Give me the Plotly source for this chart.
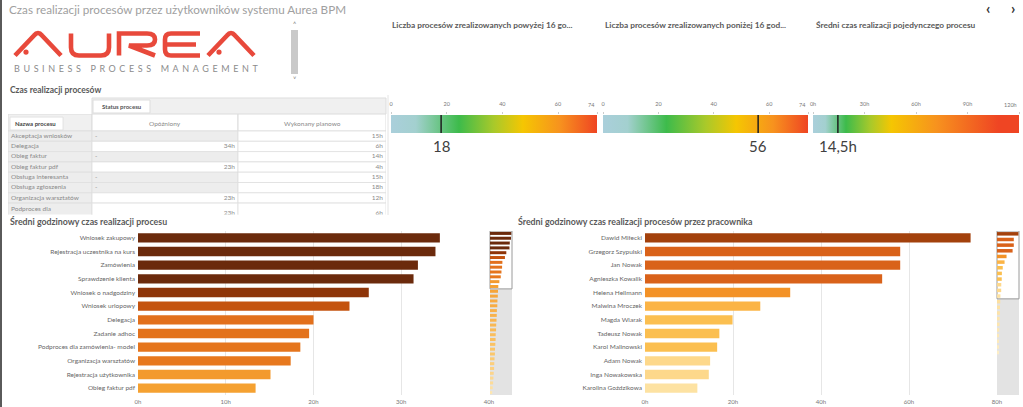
import plotly.graph_objects as go

W, H = 1023, 407
def px(x): return x / W
def py(y): return 1 - y / H

# ---------------- data ----------------
page_title = "Czas realizacji procesów przez użytkowników systemu Aurea BPM"

gauge_titles = ["Liczba procesów zrealizowanych powyżej 16 go...",
                "Liczba procesów zrealizowanych poniżej 16 god...",
                "Średni czas realizacji pojedynczego procesu"]
gauge_values = [18, 56, 14.5]
gauge_labels = ["18", "56", "14,5h"]
gauge_max = [74, 74, 120]
gauge_ticks = [[0, 20, 40, 60, 74], [0, 20, 40, 60, 74], [0, 30, 60, 90, 120]]
gauge_ticktext = [["0", "20", "40", "60", "74"], ["0", "20", "40", "60", "74"],
                  ["0h", "30h", "60h", "90h", "120h"]]

tbl_group = "Status procesu"
tbl_header = ["Nazwa procesu", "Opóźniony", "Wykonany planowo"]
tbl_names = ["Akceptacja wniosków", "Delegacja", "Obieg faktur", "Obieg faktur pdf",
             "Obsługa interesanta", "Obsługa zgłoszenia", "Organizacja warsztatów",
             "Podproces dla<br>zamówienia- model"]
tbl_delayed = ["-", "34h", "-", "23h", "-", "-", "23h", "23h"]
tbl_planned = ["15h", "6h", "14h", "4h", "15h", "18h", "12h", "6h"]

proc_names = ["Wniosek zakupowy", "Rejestracja uczestnika na kurs", "Zamówienia",
              "Sprawdzenie klienta", "Wniosek o nadgodziny", "Wniosek urlopowy",
              "Delegacja", "Zadanie adhoc", "Podproces dla zamówienia- model",
              "Organizacja warsztatów", "Rejestracja użytkownika", "Obieg faktur pdf"]
proc_hours = [34.4, 33.9, 31.9, 31.4, 26.3, 24.1, 20.0, 19.5, 18.5, 17.4, 15.1, 13.4]
proc_tail_hours = [12.9, 12.6, 12.0, 11.8, 11.1, 10.9, 10.5, 10.0, 9.8, 9.2, 9.0,
                   8.6, 8.1, 7.9, 7.3, 6.9, 6.6, 6.0, 5.5, 5.1, 4.4, 3.6]

emp_names = ["Dawid Miłecki", "Grzegorz Szypulski", "Jan Nowak", "Agnieszka Kowalik",
             "Helena Hellmann", "Malwina Mroczek", "Magda Wiarak", "Tadeusz Nowak",
             "Karol Malinowski", "Adam Nowak", "Inga Nowakowska", "Karolina Goździkowa"]
emp_hours = [74.0, 58.0, 58.0, 53.9, 33.0, 26.2, 19.9, 16.9, 16.4, 14.8, 14.5, 11.9]
emp_tail_hours = [11.2, 10.4, 9.9, 9.1, 8.7, 7.8, 7.2, 6.5, 5.7, 4.9]

# ---------------- styles ----------------
proc_colors = ['#6b2a0c'] * 4 + ['#8e3509', '#c4530f', '#e2701c', '#e3721c',
                                 '#e5751d', '#e7781e', '#f39a2d', '#f5a131']
emp_colors = ['#a3410c', '#d9621a', '#d9621a', '#d9621a', '#f39227', '#fbb446',
              '#fbbf50', '#fbbf50', '#fbbf50', '#fdd88b', '#fdd88b', '#fde2a2']
gauge_scales = [
    [[0, '#aacfdb'], [0.12, '#a3d0cf'], [0.33, '#3dbb4b'], [0.5, '#a9c92a'],
     [0.64, '#f5c602'], [0.82, '#f7921e'], [1, '#ef4523']],
    [[0, '#aacfdb'], [0.12, '#a3d0cf'], [0.31, '#3dbb4b'], [0.5, '#a9c92a'],
     [0.65, '#f5c602'], [0.83, '#f7921e'], [1, '#ef4523']],
    [[0, '#aacfdb'], [0.06, '#a3d0cf'], [0.16, '#3dbb4b'], [0.28, '#a9c92a'],
     [0.38, '#f5c602'], [0.6, '#f7921e'], [0.9, '#ef4523'], [1, '#ef4523']],
]
col_edges = [0, 84, 230, 378]          # table column borders (table axis units = px)
FONT = "Lato"
RED = '#e8493b'

fig = go.Figure()
annotations = []
shapes = []

def ann(x, y, text, size=8, color='#555', xanchor='left', yanchor='middle', **kw):
    annotations.append(dict(x=px(x), y=py(y), xref='paper', yref='paper', text=text,
                            showarrow=False, xanchor=xanchor, yanchor=yanchor,
                            font=dict(family=FONT, size=size, color=color), **kw))

def rect(x0, y0, x1, y1, fill, line=None, lw=0, layer='below'):
    shapes.append(dict(type='rect', xref='paper', yref='paper', x0=px(x0), x1=px(x1),
                       y0=py(y1), y1=py(y0), fillcolor=fill, layer=layer,
                       line=dict(color=line or fill, width=lw)))

def P(x, y):
    return f"{px(x):.5f},{py(y):.5f}"

# ---------------- page chrome ----------------
rect(0, 0, 2, 407, '#5a5a5a', layer='above')
ann(7, 9, page_title, size=11.7, color='#a0a0a0')
ann(988, 8, "<b>‹</b>", size=15, color='#333', xanchor='center')
ann(1013, 8, "<b>›</b>", size=15, color='#333', xanchor='center')

# logo
t, b = 33.5, 55.5
def logo_A(x0):
    return (f"M {P(x0+2, b)} L {P(x0+21, t+2)} Q {P(x0+25, t-3)} {P(x0+29, t+2)} "
            f"L {P(x0+48, b)}")
def logo_U(x0):
    return (f"M {P(x0+2, t)} L {P(x0+2, b-8)} Q {P(x0+2, b)} {P(x0+10, b)} L {P(x0+32, b)} "
            f"Q {P(x0+40, b)} {P(x0+40, b-8)} L {P(x0+40, t)}")
def logo_R(x0):
    return (f"M {P(x0+2, b)} L {P(x0+2, t)} L {P(x0+30, t)} Q {P(x0+38, t)} {P(x0+38, t+6)} "
            f"Q {P(x0+38, t+12)} {P(x0+30, t+12)} L {P(x0+12, t+12)} L {P(x0+38, b)}")
def logo_E(x0):
    m = (t + b) / 2
    return (f"M {P(x0+37, t)} L {P(x0+8, t)} Q {P(x0+2, t)} {P(x0+2, t+6)} L {P(x0+2, b-6)} "
            f"Q {P(x0+2, b)} {P(x0+8, b)} L {P(x0+37, b)} M {P(x0+2, m)} L {P(x0+33, m)}")
for path in [logo_A(13), logo_U(69), logo_R(117), logo_E(163), logo_A(206)]:
    shapes.append(dict(type='path', xref='paper', yref='paper', path=path,
                       line=dict(color=RED, width=4.6), layer='above'))
for cx in [26, 219]:
    shapes.append(dict(type='circle', xref='paper', yref='paper', x0=px(cx-2.6), x1=px(cx+2.6),
                       y0=py(b-0.8), y1=py(b-6.0), fillcolor=RED, line=dict(width=0)))
ann(12, 68, '<span style="letter-spacing:3.6px">BUSINESS PROCESS MANAGEMENT</span>',
    size=9, color='#8c8c8c')
rect(291, 30, 298, 74, '#c9c9c9')
ann(294.5, 24, "˄", size=7, color='#777', xanchor='center')
ann(294.5, 79, "˅", size=7, color='#777', xanchor='center')

# ---------------- table ----------------
ann(8, 90, "<b>Czas realizacji procesów</b>", size=8.5, color='#595959')
rect(92, 98, 386, 114, '#f0f0f0', '#dddddd', 1)
rect(93, 100, 150, 113, 'white', '#dddddd', 1)
ann(121.5, 106.5, "<b>" + tbl_group + "</b>", size=6, color='#555', xanchor='center')

row_units = [s.count('<br>') + 1 for s in tbl_names]
row_start = [sum(row_units[:i]) for i in range(len(tbl_names))]
row_mid = [row_start[i] + row_units[i] / 2 for i in range(len(tbl_names))]
HDR = 1.65
ROWPX = 10.3
TB_TOP, TB_BOT = 114, 214.5
fig.layout['xaxis9'] = dict(domain=[px(8), px(386)], range=[col_edges[0], col_edges[-1]],
                            anchor='y9', visible=False, fixedrange=True)
fig.layout['yaxis9'] = dict(domain=[py(TB_BOT), py(TB_TOP)],
                            range=[(TB_BOT - TB_TOP) / ROWPX - HDR, -HDR], anchor='x9',
                            visible=False, fixedrange=True)
hdr_fill = ['#f0f0f0', 'white', 'white']
for c in range(3):
    shapes.append(dict(type='rect', xref='x9', yref='y9', x0=col_edges[c], x1=col_edges[c+1],
                       y0=-HDR, y1=0, fillcolor=hdr_fill[c], layer='below',
                       line=dict(color='#dcdcdc', width=1)))
for r in range(len(tbl_names)):
    fills = ['#ededed', '#ededed' if tbl_delayed[r] == '-' else 'white', 'white']
    for c in range(3):
        shapes.append(dict(type='rect', xref='x9', yref='y9', x0=col_edges[c],
                           x1=col_edges[c+1], y0=row_start[r], y1=row_start[r] + row_units[r],
                           fillcolor=fills[c], layer='below',
                           line=dict(color='#dedede', width=0.8)))
shapes.append(dict(type='rect', xref='x9', yref='y9', x0=2, x1=55, y0=-1.35, y1=-0.1,
                   fillcolor='white', layer='below', line=dict(color='#dddddd', width=0.8)))
annotations.append(dict(x=5, y=-0.72, xref='x9', yref='y9', text="<b>" + tbl_header[0] + "</b>",
                        showarrow=False, xanchor='left', yanchor='middle',
                        font=dict(family=FONT, size=6, color='#444')))
for c in (1, 2):
    annotations.append(dict(x=(col_edges[c] + col_edges[c+1]) / 2, y=-0.72, xref='x9',
                            yref='y9', text=tbl_header[c], showarrow=False,
                            xanchor='center', yanchor='middle',
                            font=dict(family=FONT, size=6.5, color='#8a8a8a')))
tfont = dict(family=FONT, size=6.5, color='#8a8a8a')
fig.add_trace(go.Scatter(x=[col_edges[0] + 3] * len(tbl_names), y=row_mid, text=tbl_names,
                         mode='text', textposition='middle right', textfont=tfont,
                         xaxis='x9', yaxis='y9', hoverinfo='skip', cliponaxis=True))
fig.add_trace(go.Scatter(x=[col_edges[1] + 3 if v == '-' else col_edges[2] - 3 for v in tbl_delayed],
                         y=row_mid, text=tbl_delayed, mode='text',
                         textposition=['middle right' if v == '-' else 'middle left'
                                       for v in tbl_delayed],
                         textfont=tfont, xaxis='x9', yaxis='y9', hoverinfo='skip',
                         cliponaxis=True))
fig.add_trace(go.Scatter(x=[col_edges[3] - 3] * len(tbl_planned), y=row_mid, text=tbl_planned,
                         mode='text', textposition='middle left', textfont=tfont,
                         xaxis='x9', yaxis='y9', hoverinfo='skip', cliponaxis=True))
shapes.append(dict(type='line', xref='paper', yref='paper', x0=px(388), x1=px(388),
                   y0=py(215), y1=py(95), line=dict(color='#e4e4e4', width=1)))

# ---------------- gauges ----------------
gauge_x = [(391, 597), (603, 808), (813, 1019)]
gtitle_x = [390, 603, 814]
for i in range(3):
    k = 4 + i
    xa, ya = f'x{k}', f'y{k}'
    gmax = gauge_max[i]
    fig.add_trace(go.Scatter(x=[0, gmax, gmax, 0, 0], y=[0, 0, 1, 1, 0], xaxis=xa, yaxis=ya,
                             mode='lines', line=dict(width=0), fill='toself',
                             fillgradient=dict(type='horizontal', colorscale=gauge_scales[i]),
                             hoverinfo='skip'))
    v = gauge_values[i]
    fig.add_trace(go.Scatter(x=[v, v], y=[0, 1], xaxis=xa, yaxis=ya, mode='lines',
                             line=dict(color='#1e1e1e', width=1.5), hoverinfo='skip'))
    # last tick label is drawn right-aligned at the gauge end (as in the reference)
    ttext = gauge_ticktext[i][:-1] + ['']
    fig.layout[f'xaxis{k}'] = dict(domain=[px(gauge_x[i][0]), px(gauge_x[i][1])],
                                   range=[0, gmax], side='top', anchor=ya,
                                   tickvals=gauge_ticks[i], ticktext=ttext,
                                   tickfont=dict(family=FONT, size=5.5, color='#777'),
                                   ticks='outside', ticklen=2, tickcolor='#cccccc',
                                   ticklabelstandoff=4,
                                   showgrid=False, zeroline=False, showline=False,
                                   fixedrange=True)
    fig.layout[f'yaxis{k}'] = dict(domain=[py(133), py(115)], range=[0, 1], anchor=xa,
                                   visible=False, fixedrange=True)
    annotations.append(dict(x=gauge_ticks[i][-1], y=py(104.5), xref=xa, yref='paper',
                            text=gauge_ticktext[i][-1], showarrow=False, xanchor='right',
                            yanchor='middle',
                            font=dict(family=FONT, size=5.5, color='#777')))
    annotations.append(dict(x=v, y=py(146), xref=xa, yref='paper', text=gauge_labels[i],
                            showarrow=False, xanchor='center', yanchor='middle',
                            font=dict(family=FONT, size=15, color='#404040')))
    ann(gtitle_x[i], 25, "<b>" + gauge_titles[i] + "</b>", size=8.3, color='#595959')

# ---------------- bar charts ----------------
def bar_chart(k, names, hours, colors, dom_x, xmax, dtick):
    fig.add_trace(go.Bar(y=names, x=hours, orientation='h', xaxis=f'x{k}', yaxis=f'y{k}',
                         marker=dict(color=colors, line=dict(width=0)), width=0.68,
                         hoverinfo='skip'))
    fig.layout[f'xaxis{k}'] = dict(domain=[px(dom_x[0]), px(dom_x[1])], range=[0, xmax],
                                   anchor=f'y{k}', dtick=dtick, ticksuffix='h',
                                   tickfont=dict(family=FONT, size=6, color='#777'),
                                   showgrid=True, gridcolor='#e6e6e6', gridwidth=1,
                                   zeroline=False, showline=False, ticks='',
                                   ticklabelstandoff=2, fixedrange=True)
    fig.layout[f'yaxis{k}'] = dict(domain=[py(395), py(231)], anchor=f'x{k}',
                                   type='category', autorange='reversed',
                                   tickfont=dict(family=FONT, size=6.5, color='#666'),
                                   showgrid=False, zeroline=False, showline=False,
                                   ticks='', ticklabelstandoff=2, fixedrange=True)

def minimap(k, hours, colors, tail, tail_scale, dom_x, xmax, slots):
    allh = hours + tail
    idx = list(range(len(allh)))
    fig.add_trace(go.Bar(y=idx[:len(hours)], x=hours, orientation='h', xaxis=f'x{k}',
                         yaxis=f'y{k}', marker=dict(color=colors, line=dict(width=0)),
                         width=0.62, hoverinfo='skip'))
    fig.add_trace(go.Bar(y=idx[len(hours):], x=tail, orientation='h', xaxis=f'x{k}',
                         yaxis=f'y{k}', marker=dict(color=tail, colorscale=tail_scale,
                                                    line=dict(width=0)),
                         width=0.62, hoverinfo='skip'))
    fig.layout[f'xaxis{k}'] = dict(domain=[px(dom_x[0]), px(dom_x[1])], range=[0, xmax],
                                   anchor=f'y{k}', visible=False, fixedrange=True)
    fig.layout[f'yaxis{k}'] = dict(domain=[py(395), py(231)], anchor=f'x{k}',
                                   range=[slots - 0.5, -0.5], visible=False, fixedrange=True)
    shapes.append(dict(type='rect', xref=f'x{k} domain', yref=f'y{k} domain', x0=0, x1=1,
                       y0=0, y1=1, fillcolor='#e3e3e3', line=dict(width=0), layer='below'))
    shapes.append(dict(type='rect', xref=f'x{k} domain', yref=f'y{k}', x0=0, x1=1,
                       y0=-0.5, y1=len(hours) - 0.5, fillcolor='white',
                       line=dict(color='#9a9a9a', width=1), layer='below'))

ann(8, 222, "<b>Średni godzinowy czas realizacji procesu</b>", size=8.8, color='#595959')
ann(516, 222, "<b>Średni godzinowy czas realizacji procesów przez pracownika</b>", size=8.8,
    color='#595959')
bar_chart(1, proc_names, proc_hours, proc_colors, (138, 489), 40, 10)
bar_chart(2, emp_names, emp_hours, emp_colors, (645, 997), 80, 20)
minimap(3, proc_hours, proc_colors, proc_tail_hours,
        [[0, '#fde6b0'], [0.5, '#fbc466'], [1, '#f6a53a']], (490, 512), 35.5, 34)
minimap(8, emp_hours, emp_colors, emp_tail_hours,
        [[0, '#fdeec6'], [1, '#fde0a0']], (997, 1019), 76, 29)

fig.update_layout(width=W, height=H, autosize=False, margin=dict(l=0, r=0, t=0, b=0),
                  template='none', paper_bgcolor='white', plot_bgcolor='white',
                  showlegend=False, bargap=0.3, font=dict(family=FONT, color='#555'),
                  annotations=annotations, shapes=shapes)
fig.write_html("out.html", config={'displayModeBar': False},
               post_script="document.body.style.margin='0';"
                           "document.body.style.overflow='hidden';")
